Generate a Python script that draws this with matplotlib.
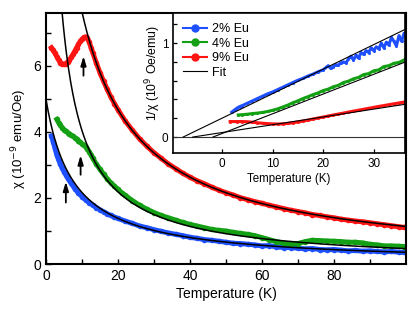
"""Eu-doped susceptibility: chi(T) with Curie-Weiss fits, inset 1/chi(T)."""
import numpy as np
import matplotlib

matplotlib.use("Agg")
import matplotlib.pyplot as plt

plt.rcParams["font.family"] = ["Liberation Sans", "DejaVu Sans"]
plt.rcParams["font.size"] = 9

labels = ["2% Eu", "4% Eu", "9% Eu"]
colors = ["#1e50ff", "#14a014", "#ff1414"]

# main panel: chi (1e-9 emu/Oe) vs T (K)
t_blue = [1.5, 2, 2.5, 3, 3.5, 4, 4.5, 5, 5.5, 6, 7, 8, 9, 10, 11, 12, 13, 14, 15, 16,
          17, 18, 19, 20, 22, 24, 26, 28, 30, 32, 34, 36, 38, 40, 42, 44, 46, 48, 50,
          52, 54, 56, 58, 60, 62, 64, 66, 68, 70, 72, 74, 76, 78, 80, 82, 84, 86, 88,
          90, 92, 94, 96, 98, 99.5]
chi_blue = [3.88, 3.70, 3.50, 3.30, 3.15, 3.02, 2.90, 2.80, 2.70, 2.60, 2.44, 2.28, 2.15,
            2.04, 1.94, 1.86, 1.78, 1.71, 1.64, 1.58, 1.52, 1.47, 1.42, 1.38, 1.30, 1.23,
            1.15, 1.10, 1.04, 0.99, 0.94, 0.90, 0.86, 0.81, 0.78, 0.74, 0.72, 0.69, 0.66,
            0.63, 0.62, 0.60, 0.58, 0.55, 0.56, 0.52, 0.50, 0.50, 0.48, 0.46, 0.47, 0.44,
            0.43, 0.44, 0.42, 0.40, 0.41, 0.39, 0.40, 0.38, 0.37, 0.38, 0.36, 0.35]

t_green = [3.0, 3.5, 4, 4.5, 5, 5.5, 6, 6.5, 7, 7.5, 8, 8.5, 9, 9.5, 10, 10.5, 11, 11.5,
           12, 12.5, 13, 14, 15, 16, 17, 18, 19, 20, 21, 22, 24, 26, 28, 30, 32, 34, 36,
           38, 40, 42, 44, 46, 48, 50, 52, 54, 56, 58, 60, 62, 64, 66, 68, 70, 72, 74,
           76, 78, 80, 82, 84, 86, 88, 90, 92, 94, 96, 98, 99.5]
chi_green = [4.38, 4.28, 4.20, 4.13, 4.07, 4.02, 3.98, 3.94, 3.90, 3.87, 3.83, 3.79, 3.74,
             3.69, 3.64, 3.60, 3.55, 3.48, 3.40, 3.30, 3.20, 3.02, 2.87, 2.72, 2.58, 2.46,
             2.36, 2.26, 2.16, 2.08, 1.92, 1.78, 1.66, 1.56, 1.47, 1.40, 1.33, 1.26, 1.20,
             1.15, 1.10, 1.05, 1.02, 1.00, 0.96, 0.93, 0.90, 0.86, 0.80, 0.74, 0.68, 0.63,
             0.60, 0.62, 0.68, 0.72, 0.71, 0.70, 0.69, 0.68, 0.66, 0.66, 0.64, 0.60, 0.58,
             0.55, 0.55, 0.54, 0.53]

t_red = [1.5, 2, 2.5, 3, 3.5, 4, 4.5, 5, 5.5, 6, 6.5, 7, 7.5, 8, 8.5, 9, 9.5, 10, 10.5,
         11, 11.5, 12, 12.5, 13, 14, 15, 16, 17, 18, 19, 20, 22, 24, 26, 28, 30, 32, 34,
         36, 38, 40, 42, 44, 46, 48, 50, 52, 54, 56, 58, 60, 62, 64, 66, 68, 70, 72, 74,
         76, 78, 80, 82, 84, 86, 88, 90, 92, 94, 96, 98, 99.5]
chi_red = [6.55, 6.47, 6.38, 6.28, 6.18, 6.10, 6.06, 6.05, 6.07, 6.12, 6.18, 6.26, 6.35,
           6.45, 6.55, 6.65, 6.74, 6.81, 6.86, 6.88, 6.84, 6.72, 6.55, 6.40, 6.08, 5.79,
           5.53, 5.29, 5.06, 4.86, 4.67, 4.33, 4.05, 3.79, 3.57, 3.37, 3.20, 3.03, 2.89,
           2.75, 2.63, 2.52, 2.43, 2.33, 2.24, 2.16, 2.09, 2.01, 1.95, 1.89, 1.84, 1.78,
           1.73, 1.68, 1.63, 1.59, 1.55, 1.50, 1.47, 1.43, 1.40, 1.36, 1.33, 1.30, 1.28,
           1.25, 1.22, 1.19, 1.16, 1.13, 1.11]

# inset: 1/chi (1e9 Oe/emu) vs T (K)
ti_blue = [1.9, 2.5, 3, 3.5, 4, 5, 6, 7, 8, 9, 10, 11, 12, 13, 14, 15, 16, 17, 18, 19,
           20, 21, 21.5, 22, 22.5, 23, 23.5, 24, 24.5, 25, 25.5, 26, 26.5, 27, 27.5, 28,
           28.5, 29, 29.5, 30, 30.5, 31, 31.5, 32, 32.5, 33, 33.5, 34, 34.5, 35, 35.5, 36]
inv_blue = [0.265, 0.29, 0.31, 0.325, 0.335, 0.36, 0.385, 0.41, 0.435, 0.46, 0.48, 0.505,
            0.53, 0.555, 0.58, 0.605, 0.625, 0.65, 0.67, 0.695, 0.715, 0.76, 0.73, 0.75,
            0.77, 0.765, 0.79, 0.80, 0.79, 0.83, 0.86, 0.82, 0.87, 0.84, 0.90, 0.88, 0.92,
            0.90, 0.95, 0.92, 0.96, 0.94, 1.00, 0.95, 1.01, 0.98, 1.06, 1.02, 0.97, 1.08,
            1.02, 1.10]

ti_green = [3.2, 4, 5, 6, 7, 8, 9, 10, 11, 12, 13, 14, 15, 16, 17, 18, 19, 20, 21, 22,
            23, 24, 25, 26, 27, 28, 29, 30, 31, 32, 33, 34, 35, 36]
inv_green = [0.235, 0.238, 0.243, 0.25, 0.255, 0.262, 0.272, 0.285, 0.30, 0.32, 0.34,
             0.365, 0.385, 0.41, 0.43, 0.452, 0.47, 0.495, 0.51, 0.535, 0.55, 0.58, 0.595,
             0.62, 0.635, 0.665, 0.675, 0.705, 0.715, 0.75, 0.76, 0.785, 0.795, 0.82]

ti_red = [1.6, 3, 4, 5, 6, 7, 8, 9, 10, 11, 12, 13, 14, 15, 16, 17, 18, 19, 20, 21, 22,
          23, 24, 25, 26, 27, 28, 29, 30, 31, 32, 33, 34, 35, 36]
inv_red = [0.165, 0.165, 0.165, 0.163, 0.158, 0.152, 0.147, 0.143, 0.14, 0.139, 0.14,
           0.145, 0.152, 0.16, 0.17, 0.18, 0.192, 0.203, 0.213, 0.224, 0.235, 0.245,
           0.255, 0.266, 0.276, 0.286, 0.296, 0.306, 0.316, 0.326, 0.335, 0.345, 0.354,
           0.363, 0.372]

# Curie-Weiss fit parameters: 1/chi = slope * (T - theta)
fit_theta = [-7.7, -1.8, -5.8]
fit_slope = [0.0261, 0.021, 0.0083]

# arrows (T, chi_start, chi_end)
arrow_t = [5.5, 9.6, 10.4]
arrow_lo = [1.78, 2.62, 5.62]
arrow_hi = [2.58, 3.38, 6.38]

fig = plt.figure(figsize=(4.15, 3.11), dpi=100)
ax = fig.add_axes([0.111, 0.151, 0.867, 0.807])

main_data = [(t_blue, chi_blue), (t_green, chi_green), (t_red, chi_red)]
for (t, c), col in zip(main_data, colors):
    ax.plot(t, c, "-o", color=col, lw=3.6, ms=4, mew=0)

t_fit = np.linspace(0.0, 100.0, 500)
for th, sl in zip(fit_theta, fit_slope):
    ax.plot(t_fit, 1.0 / (sl * (t_fit - th)), color="black", lw=1.1)

for t, lo, hi in zip(arrow_t, arrow_lo, arrow_hi):
    ax.annotate("", xy=(t, hi), xytext=(t, lo),
                arrowprops=dict(arrowstyle="-|>,head_length=0.6,head_width=0.18",
                                color="black", lw=1.3))

ax.set_xlim(0, 100)
ax.set_ylim(0, 7.6)
ax.set_xticks([0, 20, 40, 60, 80])
ax.set_xticks(np.arange(10, 100, 20), minor=True)
ax.set_yticks([0, 2, 4, 6])
ax.set_yticks([1, 3, 5, 7], minor=True)
ax.tick_params(which="both", direction="in", length=3.5, width=1.0, labelsize=10)
ax.set_xlabel("Temperature (K)", fontsize=10, labelpad=3)
ax.set_ylabel("χ (10$^{-9}$ emu/Oe)", fontsize=9.5, labelpad=3)
for s in ax.spines.values():
    s.set_linewidth(1.5)

# inset
ins = fig.add_axes([0.417, 0.508, 0.559, 0.450])
ins.axhline(0, color="#333333", lw=0.8)
inset_data = [(ti_blue, inv_blue), (ti_green, inv_green), (ti_red, inv_red)]
for (t, v), col, lab in zip(inset_data, colors, labels):
    ins.plot(t, v, "-", color=col, lw=2.2, marker="o", ms=2.2, mew=0, label=lab)

t_end = 40.0
for th, sl in zip(fit_theta, fit_slope):
    ins.plot([th, t_end], [0.0, sl * (t_end - th)], color="black", lw=0.8)
ins.plot([], [], color="black", lw=0.8, label="Fit")

ins.set_xlim(-9.7, 36.2)
ins.set_ylim(-0.17, 1.32)
ins.set_xticks([0, 10, 20, 30])
ins.set_yticks([0, 1])
ins.set_yticks([0.2, 0.4, 0.6, 0.8, 1.2], minor=True)
ins.tick_params(which="both", direction="in", length=3, width=0.9, labelsize=8.5)
ins.set_xlabel("Temperature (K)", fontsize=8.3, labelpad=2)
ins.set_ylabel("1/χ (10$^9$ Oe/emu)", fontsize=8.8, labelpad=1)
ins.yaxis.set_label_coords(-0.045, 0.57)
for s in ins.spines.values():
    s.set_linewidth(1.2)

handles, hl = ins.get_legend_handles_labels()
leg = ins.legend(handles, hl, loc="upper left", frameon=False, fontsize=9,
                 handlelength=1.9, handletextpad=0.4, labelspacing=0.2,
                 borderaxespad=0.4, borderpad=0.4)
for h in leg.legend_handles[:3]:
    h.set_markersize(6)
    h.set_linewidth(1.5)

fig.savefig("out.png", dpi=100)
